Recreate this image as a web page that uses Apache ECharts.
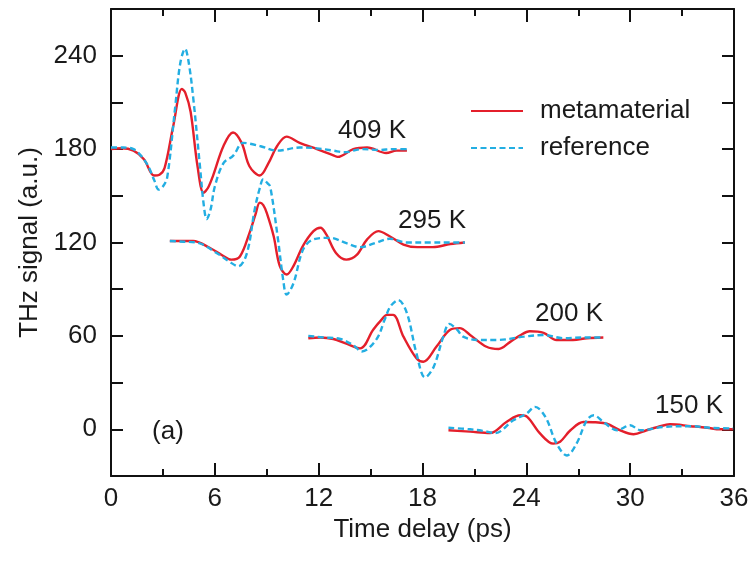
<!DOCTYPE html>
<html>
<head>
<meta charset="utf-8">
<script src="https://cdn.jsdelivr.net/npm/echarts@6/dist/echarts.min.js"></script>
<style>
html,body{margin:0;padding:0;background:#fff;}
#c{width:756px;height:563px;}
</style>
</head>
<body>
<div id="c"></div>
<script>
// x ticks and y tick labels
const xTicks = [0, 6, 12, 18, 24, 30, 36];
const yTickLabels = [0, 60, 120, 180, 240];

// 409 K
const meta409 = [[0,180],[0.6,180.5],[1.3,179],[1.9,173.5],[2.5,163],[2.8,163.5],[3.1,168],[3.6,195],[4.1,218.7],[4.3,216],[4.6,204],[5.0,169],[5.35,152],[5.6,155],[5.9,163],[6.5,182],[7.05,190.7],[7.55,184],[8.0,169],[8.6,163],[9.1,171],[9.6,182],[10.15,188],[10.9,184],[11.9,180],[12.85,176],[13.1,175],[14.0,180],[14.8,181],[15.9,177.5],[16.5,179],[17.1,179]];
const ref409 = [[0,181],[0.7,181],[1.3,180],[2.05,171],[2.5,160],[2.75,154],[3.0,156],[3.25,162],[3.7,206],[4.0,235],[4.28,244.5],[4.5,235],[4.76,212],[5.14,169],[5.35,145],[5.53,135],[5.75,141],[6.0,156],[6.5,171],[7.05,175.6],[7.65,184],[8.6,182],[9.6,179],[10.9,181],[11.9,180.5],[12.85,179],[13.5,178],[14.5,180],[15.5,179.5],[16.3,180],[17.1,180]];
// 295 K
const meta295 = [[3.4,121],[4.0,121],[4.75,121],[5.7,116.6],[6.4,112],[6.95,109],[7.45,111],[8.0,126],[8.35,138],[8.6,145.6],[8.8,144],[9.0,139],[9.4,124],[9.75,105],[10.15,99.4],[10.55,105],[11.1,118],[11.7,127.3],[12.1,129.5],[12.45,125],[13.0,113.3],[13.6,109],[14.2,112],[14.8,122],[15.45,127.3],[16.1,124],[16.9,118.7],[17.7,117],[18.6,117],[19.6,119],[20.45,120]];
const ref295 = [[3.4,121],[4.2,120.5],[4.95,120],[6.1,113.3],[6.8,108],[7.35,104.7],[7.85,113],[8.3,141],[8.6,155],[8.8,160.6],[9.05,158],[9.2,156],[9.65,122],[9.95,96],[10.15,86.5],[10.55,94],[11.1,115.5],[11.7,122],[12.65,123],[13.6,119.6],[14.4,117],[15.35,120],[16.1,122.4],[17.1,120],[18.5,120],[19.5,120],[20.45,120]];
// 200 K
const meta200 = [[11.4,58.5],[12.1,59],[12.85,58],[13.6,55],[14.4,52],[15.15,64],[15.6,70],[15.95,73.5],[16.3,73.5],[16.9,59.5],[17.65,45.6],[18.05,43.4],[18.8,53],[19.6,64],[20.15,65],[20.75,60.6],[21.7,53],[22.4,51.6],[23.05,56],[23.6,60],[24.2,63],[25.0,62],[25.75,57.4],[26.7,57.4],[27.5,58.5],[28.45,59]];
const ref200 = [[11.4,60],[12.3,59],[13.25,58],[14.0,54],[14.5,50],[15.35,58],[15.8,70],[16.15,79],[16.6,83],[17.1,74.6],[17.65,48.8],[18.15,33.3],[18.65,40.2],[19.2,59.5],[19.55,67.7],[20.0,64],[20.35,59.5],[21.15,57.4],[22.3,57.4],[23.85,59.5],[25.0,60.6],[26.15,58.5],[27.3,59],[28.45,59]];
// 150 K
const meta150 = [[19.5,-0.6],[20.75,-1.5],[21.9,-2.4],[22.85,4.7],[23.65,9],[24.05,8],[24.8,-2.8],[25.55,-9.2],[25.95,-8],[26.55,-0.6],[27.3,4.7],[28.0,4.5],[28.65,3.6],[29.4,-0.6],[30.2,-3.2],[30.95,-0.6],[31.6,1.5],[32.3,3.2],[33.5,2],[34.45,1],[35.2,0],[35.95,0]];
const ref150 = [[19.5,1],[20.75,0],[21.5,-1],[22.2,-2.4],[23.25,5.8],[24.0,10],[24.5,14.4],[25.1,8],[25.75,-9.2],[26.35,-16.8],[26.9,-9.2],[27.5,5.8],[27.9,9],[28.45,4.7],[29.25,-0.6],[30.0,2.6],[30.6,-0.6],[31.9,1.5],[33.5,2],[34.8,0.8],[35.95,0.6]];

const tempLabels = ['409 K', '295 K', '200 K', '150 K'];
const panelLabel = '(a)';

const FONT = '"Liberation Sans", Arial, Helvetica, sans-serif';
const FS = 26;
const TXT = '#1a1a1a';
const RED = '#e41f2b';
const BLUE = '#23aee2';

const chart = echarts.init(document.getElementById('c'), null, {renderer: 'canvas'});

function redSeries(d) {
  return {type: 'line', name: 'metamaterial', data: d, symbol: 'none', showSymbol: false,
    smooth: 0.35, lineStyle: {color: RED, width: 2.4}, itemStyle: {color: RED}, z: 3};
}
function blueSeries(d) {
  return {type: 'line', name: 'reference', data: d, symbol: 'none', showSymbol: false,
    smooth: 0.35, lineStyle: {color: BLUE, width: 2.4, type: [6, 3.5]}, itemStyle: {color: BLUE}, z: 4};
}

const axisLine = {show: true, onZero: false, lineStyle: {color: '#111', width: 2}};
const tickStyle = {color: '#111', width: 2};

const labelPos = [[372, 131], [432, 221], [569, 314], [689, 406]];

chart.setOption({
  backgroundColor: '#fff',
  animation: false,
  textStyle: {fontFamily: FONT},
  grid: {left: 111, right: 22, top: 9, bottom: 87, containLabel: false},
  legend: {
    orient: 'vertical', left: 465, top: 93, itemWidth: 52, itemHeight: 14, itemGap: 11,
    data: ['metamaterial', 'reference'],
    itemStyle: {opacity: 0},
    textStyle: {fontFamily: FONT, fontSize: FS, color: TXT, padding: [0, 0, 0, 12]},
    selectedMode: false
  },
  xAxis: [
    {
      type: 'value', min: xTicks[0], max: xTicks[xTicks.length - 1], interval: 6, position: 'bottom',
      axisLine: axisLine, splitLine: {show: false},
      name: 'Time delay (ps)', nameLocation: 'middle', nameGap: 40,
      nameTextStyle: {fontFamily: FONT, fontSize: FS, color: TXT},
      axisTick: {show: true, inside: true, length: 13, lineStyle: tickStyle},
      minorTick: {show: true, splitNumber: 2, length: 7, lineStyle: tickStyle},
      minorSplitLine: {show: false},
      axisLabel: {fontFamily: FONT, fontSize: FS, color: TXT, margin: 10}
    },
    {
      type: 'value', min: xTicks[0], max: xTicks[xTicks.length - 1], interval: 6, position: 'top',
      axisLine: axisLine, splitLine: {show: false},
      axisTick: {show: true, inside: true, length: 13, lineStyle: tickStyle},
      minorTick: {show: true, splitNumber: 2, length: 7, lineStyle: tickStyle},
      minorSplitLine: {show: false},
      axisLabel: {show: false}
    }
  ],
  yAxis: [
    {
      type: 'value', min: -30, max: 270, interval: 30, position: 'left',
      axisLine: axisLine, splitLine: {show: false},
      name: 'THz signal (a.u.)', nameLocation: 'middle', nameGap: 66,
      nameTextStyle: {fontFamily: FONT, fontSize: FS, color: TXT},
      axisTick: {show: true, inside: true, length: 12, lineStyle: tickStyle},
      axisLabel: {fontFamily: FONT, fontSize: FS, color: TXT, margin: 14,
        formatter: v => (yTickLabels.indexOf(v) >= 0 ? String(v) : '')}
    },
    {
      type: 'value', min: -30, max: 270, interval: 30, position: 'right',
      axisLine: axisLine, splitLine: {show: false},
      axisTick: {show: true, inside: true, length: 12, lineStyle: tickStyle},
      axisLabel: {show: false}
    }
  ],
  graphic: tempLabels.map((t, i) => ({
    type: 'text', x: labelPos[i][0], y: labelPos[i][1], z: 10,
    style: {text: t, fontFamily: FONT, fontSize: FS, fill: TXT, align: 'center', verticalAlign: 'middle'}
  })).concat([{
    type: 'text', x: 168, y: 432, z: 10,
    style: {text: panelLabel, fontFamily: FONT, fontSize: FS, fill: TXT, align: 'center', verticalAlign: 'middle'}
  }]),
  series: [
    redSeries(meta409), blueSeries(ref409),
    redSeries(meta295), blueSeries(ref295),
    redSeries(meta200), blueSeries(ref200),
    redSeries(meta150), blueSeries(ref150)
  ]
});
</script>
</body>
</html>
